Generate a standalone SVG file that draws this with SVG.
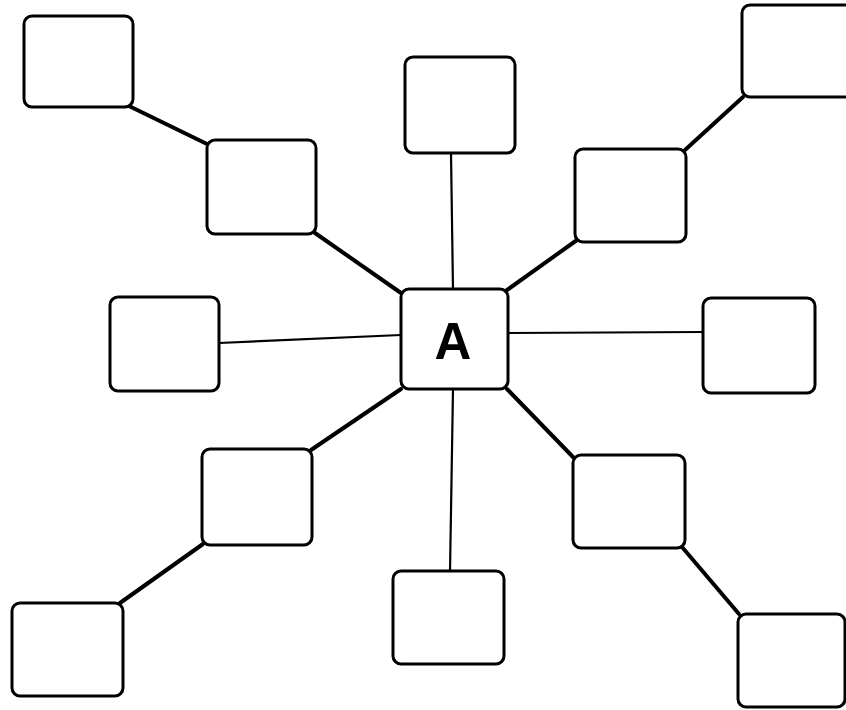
<svg xmlns="http://www.w3.org/2000/svg" width="846" height="710" viewBox="0 0 846 710">
<style>
.box{fill:#fff;stroke:#000;stroke-width:3}
.thick{stroke:#000;stroke-width:4;stroke-linecap:round;fill:none}
.thin{stroke:#000;stroke-width:2.2;fill:none}
.lbl{font-family:"Liberation Sans",Arial,sans-serif;font-weight:bold;font-size:51px;text-anchor:middle;fill:#000}
</style>
<rect width="846" height="710" fill="#fff"/>
<g id="connectors">
<line class="thick" x1="129" y1="106" x2="207" y2="144"/>
<line class="thick" x1="315" y1="233" x2="401" y2="293"/>
<line class="thin" x1="451" y1="153" x2="453" y2="290"/>
<line class="thick" x1="577" y1="240" x2="507" y2="290"/>
<line class="thick" x1="685" y1="150" x2="743" y2="97"/>
<line class="thin" x1="219" y1="343" x2="401" y2="335"/>
<line class="thin" x1="507" y1="333" x2="703" y2="332"/>
<line class="thick" x1="311" y1="450" x2="401" y2="389"/>
<line class="thick" x1="203" y1="544" x2="120" y2="603"/>
<line class="thin" x1="453" y1="389" x2="450" y2="572"/>
<line class="thick" x1="507" y1="389" x2="573" y2="457"/>
<line class="thick" x1="682" y1="547" x2="739" y2="614"/>
</g>
<g id="n1"><rect class="box" x="24" y="16" width="109" height="91" rx="8"/></g>
<g id="n2"><rect class="box" x="207" y="140" width="109" height="94" rx="8"/></g>
<g id="n3"><rect class="box" x="405" y="57" width="110" height="96" rx="8"/></g>
<g id="n4"><rect class="box" x="575" y="149" width="111" height="93" rx="8"/></g>
<g id="n5"><rect class="box" x="742" y="5" width="115" height="92" rx="8"/></g>
<g id="n6"><rect class="box" x="110" y="297" width="109" height="94" rx="8"/></g>
<g id="nA"><rect class="box" x="401" y="289" width="107" height="100" rx="8"/><text class="lbl" x="453" y="359">A</text></g>
<g id="n8"><rect class="box" x="703" y="298" width="112" height="95" rx="8"/></g>
<g id="n9"><rect class="box" x="202" y="449" width="110" height="96" rx="8"/></g>
<g id="n10"><rect class="box" x="573" y="455" width="112" height="93" rx="8"/></g>
<g id="n11"><rect class="box" x="12" y="603" width="111" height="93" rx="8"/></g>
<g id="n12"><rect class="box" x="393" y="571" width="111" height="93" rx="8"/></g>
<g id="n13"><rect class="box" x="738" y="614" width="107" height="93" rx="8"/></g>
</svg>
